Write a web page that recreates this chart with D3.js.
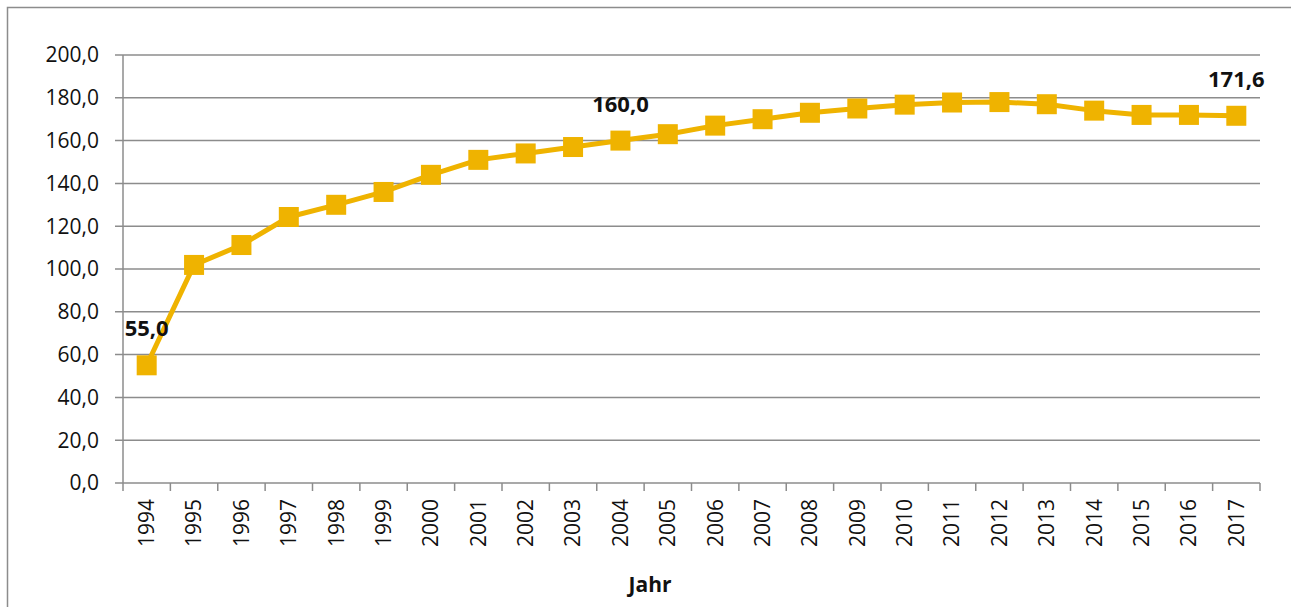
<!DOCTYPE html>
<html>
<head>
<meta charset="utf-8">
<script src="https://cdn.jsdelivr.net/npm/d3@7"></script>
<style>
  body { margin: 0; background: #fff; }
  svg { display: block; }
  text { font-family: "Open Sans", "Noto Sans", sans-serif; fill: #111; }
</style>
</head>
<body>
<script>
var years = ["1994","1995","1996","1997","1998","1999","2000","2001","2002","2003","2004","2005",
             "2006","2007","2008","2009","2010","2011","2012","2013","2014","2015","2016","2017"];
var values = [55.0,101.9,111.2,124.3,130.0,136.0,144.0,151.0,154.0,157.0,160.0,163.0,
              167.0,170.0,173.0,175.0,176.8,177.8,178.0,177.0,174.0,172.0,172.0,171.6];
var yTicks = [0,20,40,60,80,100,120,140,160,180,200];
var labelled = ["1994","2004","2017"];

var width = 1291, height = 607;
var margins = {top: 55, left: 123, bottom: 124, right: 31};
var plotW = width - margins.left - margins.right;
var plotH = height - margins.top - margins.bottom;
var gold = "#EFB300";
var gray = "#8c8c8c";

var svg = d3.select("body").append("svg")
    .attr("width", width)
    .attr("height", height);

// outer frame
svg.append("rect")
    .attr("x", 7.5).attr("y", 7.5)
    .attr("width", width + 10).attr("height", height + 10)
    .attr("fill", "none")
    .attr("stroke", gray)
    .attr("stroke-width", 1.5);

var xScale = d3.scaleBand().domain(years).range([0, plotW]);
var yScale = d3.scaleLinear().domain([0, 200]).range([plotH, 0]);

var plot = svg.append("g")
    .attr("transform", "translate(" + margins.left + "," + margins.top + ")");

// grid lines
plot.append("g").selectAll("line")
    .data(yTicks)
    .enter().append("line")
    .attr("x1", -8).attr("x2", plotW)
    .attr("y1", function(d){ return yScale(d); })
    .attr("y2", function(d){ return yScale(d); })
    .attr("stroke", gray).attr("stroke-width", 1.5);

// y labels
plot.append("g").selectAll("text")
    .data(yTicks)
    .enter().append("text")
    .attr("x", -24)
    .attr("y", function(d){ return yScale(d); })
    .attr("dy", "0.35em")
    .attr("text-anchor", "end")
    .style("font-size", "21px")
    .text(function(d){ return d3.format(".1f")(d).replace(".", ","); });

// y axis line
plot.append("line")
    .attr("x1", 0).attr("x2", 0)
    .attr("y1", 0).attr("y2", plotH)
    .attr("stroke", gray).attr("stroke-width", 1.5);

// x ticks
var tickPos = years.map(function(d){ return xScale(d); }).concat([plotW]);
plot.append("g").selectAll("line")
    .data(tickPos)
    .enter().append("line")
    .attr("x1", function(d){ return d; })
    .attr("x2", function(d){ return d; })
    .attr("y1", plotH).attr("y2", plotH + 8)
    .attr("stroke", gray).attr("stroke-width", 1.5);

// x labels
plot.append("g").selectAll("text")
    .data(years)
    .enter().append("text")
    .attr("transform", function(d){
      return "translate(" + (xScale(d) + xScale.bandwidth()/2) + "," + (plotH + 16) + ") rotate(-90)";
    })
    .attr("dy", "0.35em")
    .attr("text-anchor", "end")
    .style("font-size", "21px")
    .text(function(d){ return d; });

// axis title
svg.append("text")
    .attr("x", 650)
    .attr("y", 592)
    .attr("text-anchor", "middle")
    .style("font-size", "21px")
    .style("font-weight", "bold")
    .text("Jahr");

// line
var line = d3.line()
    .x(function(d,i){ return xScale(years[i]) + xScale.bandwidth()/2; })
    .y(function(d){ return yScale(d); });

plot.append("path")
    .datum(values)
    .attr("d", line)
    .attr("fill", "none")
    .attr("stroke", gold)
    .attr("stroke-width", 5)
    .attr("stroke-linejoin", "round");

// markers
var ms = 20;
plot.append("g").selectAll("rect")
    .data(values)
    .enter().append("rect")
    .attr("x", function(d,i){ return xScale(years[i]) + xScale.bandwidth()/2 - ms/2; })
    .attr("y", function(d){ return yScale(d) - ms/2; })
    .attr("width", ms).attr("height", ms)
    .attr("fill", gold);

// data labels
plot.append("g").selectAll("text")
    .data(values.map(function(v,i){ return {year: years[i], v: v}; })
      .filter(function(d){ return labelled.indexOf(d.year) >= 0; }))
    .enter().append("text")
    .attr("x", function(d){ return xScale(d.year) + xScale.bandwidth()/2; })
    .attr("y", function(d){ return yScale(d.v) - 29; })
    .attr("text-anchor", "middle")
    .style("font-size", "22px")
    .style("font-weight", "bold")
    .text(function(d){ return d3.format(".1f")(d.v).replace(".", ","); });
</script>
</body>
</html>
